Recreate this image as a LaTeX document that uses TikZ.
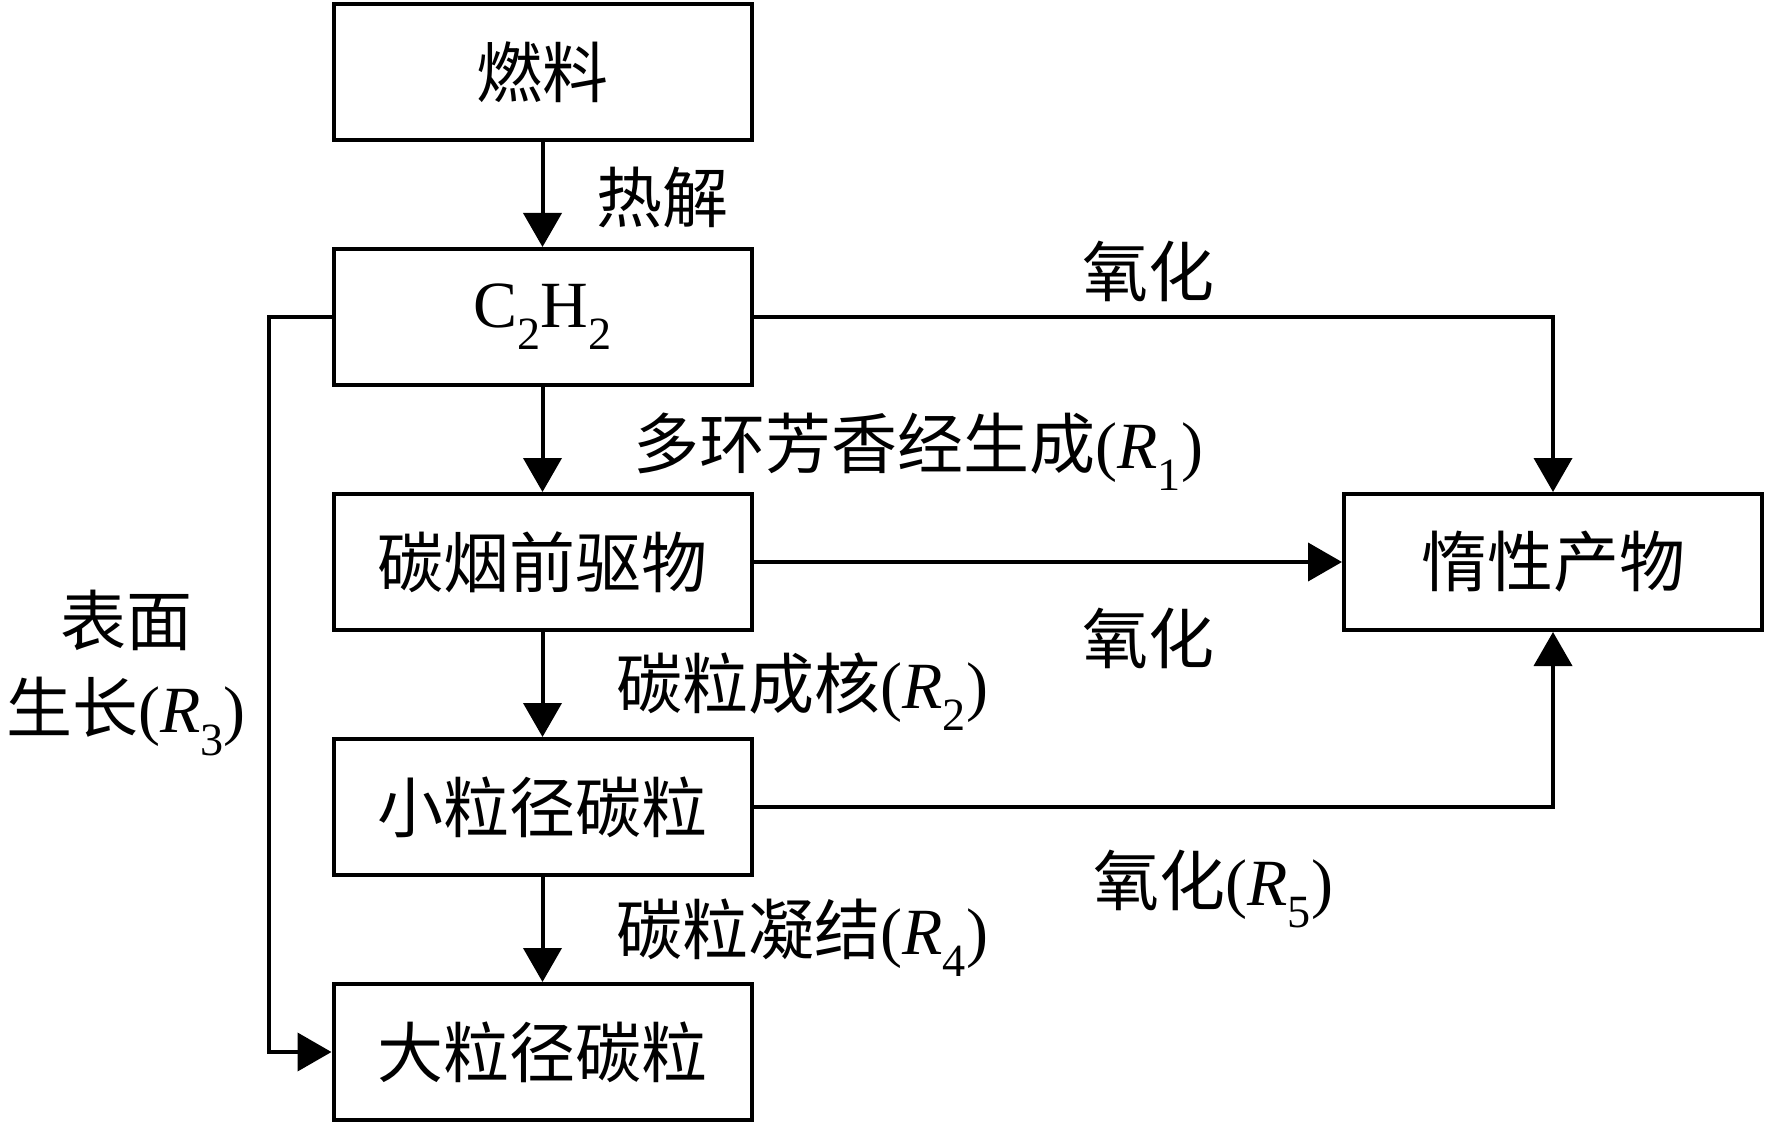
\documentclass[tikz,border=0pt]{standalone}
\usepackage{fontspec}
\setmainfont{Liberation Serif}
\newfontfamily\cjk{Noto Sans CJK SC}
\usetikzlibrary{arrows.meta}
\tikzset{
  box/.style={draw, line width=4pt, minimum width=418pt, minimum height=136pt, inner sep=0pt, font=\fontsize{66}{80}\selectfont},
  lbl/.style={inner sep=0pt, anchor=west, font=\fontsize{66}{87}\selectfont},
  arr/.style={line width=4pt, -{Triangle[length=34pt,width=38pt]}},
}
\begin{document}
\begin{tikzpicture}[x=1pt,y=-1pt]
\useasboundingbox (0,0) rectangle (1772,1126);
\node[box] (fuel) at (542.5,72) {\cjk 燃料};
\node[box] (c2h2) at (542.5,317) {C\textsubscript{2}H\textsubscript{2}};
\node[box] (prec) at (542.5,562) {\cjk 碳烟前驱物};
\node[box] (small) at (542.5,807) {\cjk 小粒径碳粒};
\node[box] (large) at (542.5,1052) {\cjk 大粒径碳粒};
\node[box] (inert) at (1553,562) {\cjk 惰性产物};
\coordinate (lc) at (269,317);
\draw[arr] (fuel) -- (c2h2);
\draw[arr] (c2h2) -- (prec);
\draw[arr] (prec) -- (small);
\draw[arr] (small) -- (large);
\draw[arr] (c2h2.east) -| (inert.north);
\draw[arr] (prec.east) -- (inert.west);
\draw[arr] (small.east) -| (inert.south);
\draw[arr] (c2h2.west) -- (lc) |- (large.west);
\node[lbl] (l1) at (596,198) {\cjk 热解};
\node[lbl] (l2) at (1082,271) {\cjk 氧化};
\node[lbl] (l3) at (633,452) {{\cjk 多环芳香经生成}(\textit{R}\textsubscript{1})};
\node[lbl] (l4) at (1082,638) {\cjk 氧化};
\node[lbl] (l5) at (616,692) {{\cjk 碳粒成核}(\textit{R}\textsubscript{2})};
\node[lbl] (l6) at (1093,889) {{\cjk 氧化}(\textit{R}\textsubscript{5})};
\node[lbl] (l7) at (616,938) {{\cjk 碳粒凝结}(\textit{R}\textsubscript{4})};
\node[inner sep=0pt, align=center, font=\fontsize{66}{87}\selectfont] (l8) at (126,673) {{\cjk 表面}\\{\cjk 生长}(\textit{R}\textsubscript{3})};
\end{tikzpicture}
\end{document}
